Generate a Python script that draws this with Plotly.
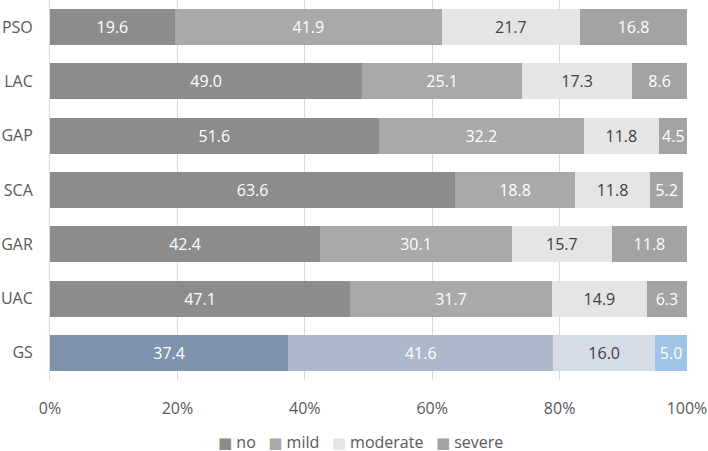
import plotly.graph_objects as go

categories = ["PSO", "LAC", "GAP", "SCA", "GAR", "UAC", "GS"]
series_names = ["no", "mild", "moderate", "severe"]
no_vals = [19.6, 49.0, 51.6, 63.6, 42.4, 47.1, 37.4]
mild_vals = [41.9, 25.1, 32.2, 18.8, 30.1, 31.7, 41.6]
moderate_vals = [21.7, 17.3, 11.8, 11.8, 15.7, 14.9, 16.0]
severe_vals = [16.8, 8.6, 4.5, 5.2, 11.8, 6.3, 5.0]
tick_vals = [0, 20, 40, 60, 80, 100]
tick_text = ["0%", "20%", "40%", "60%", "80%", "100%"]

gray_colors = {"no": "#8c8c8c", "mild": "#a9a9a9", "moderate": "#e5e5e5", "severe": "#a3a3a3"}
gs_colors = {"no": "#7f93ae", "mild": "#adb8cb", "moderate": "#d6dce5", "severe": "#9dc3e6"}
text_colors = {"no": "white", "mild": "white", "moderate": "#404040", "severe": "white"}

FONT = "Open Sans"
FS = 16
fig = go.Figure()
for name, vals in zip(series_names, [no_vals, mild_vals, moderate_vals, severe_vals]):
    colors = [gs_colors[name] if c == "GS" else gray_colors[name] for c in categories]
    fig.add_trace(go.Bar(
        name=name, y=categories, x=vals, orientation="h",
        marker=dict(color=colors, line=dict(width=0)),
        texttemplate="%{x:.1f}", textposition="inside", insidetextanchor="middle",
        textfont=dict(color=text_colors[name], size=FS, family=FONT),
        constraintext="none", hoverinfo="x+y", showlegend=False,
    ))

# legend drawn as text with square glyphs
legend_parts = []
for name in series_names:
    legend_parts.append(
        f'<span style="color:{gray_colors[name]};font-size:15px;font-family:DejaVu Sans">■</span> {name}')
legend_text = "&nbsp;&nbsp;&nbsp;".join(legend_parts)

fig.add_annotation(
    text=legend_text, xref="paper", yref="paper", x=0.488, y=-0.163,
    xanchor="center", yanchor="middle", showarrow=False,
    font=dict(size=16, color="#595959", family=FONT),
)

fig.update_layout(
    barmode="stack", bargap=0.337,
    width=708, height=451,
    margin=dict(l=50, r=21, t=0, b=71),
    plot_bgcolor="white", paper_bgcolor="white",
    font=dict(family=FONT, size=FS, color="#595959"),
    xaxis=dict(range=[0, 100], tickvals=tick_vals, ticktext=tick_text,
               showgrid=True, gridcolor="#d9d9d9", gridwidth=1, zeroline=False,
               showline=False, ticks="", ticklabelstandoff=17, automargin=False,
               tickfont=dict(size=FS, color="#595959", family=FONT)),
    yaxis=dict(categoryorder="array", categoryarray=categories, autorange="reversed",
               showline=True, linecolor="#d9d9d9", linewidth=1, showgrid=False,
               ticks="", ticklabelstandoff=13, automargin=False,
               tickfont=dict(size=16, color="#595959", family=FONT)),
    showlegend=False,
)

fig.write_html("out.html", config={"displayModeBar": False},
               post_script="document.body.style.margin='0';")
